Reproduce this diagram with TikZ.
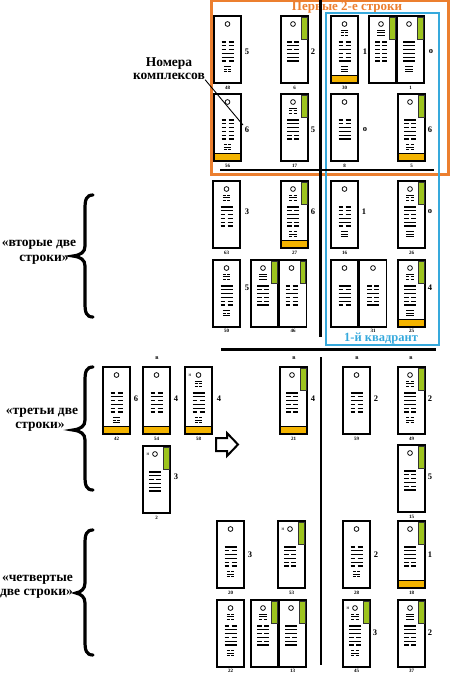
\documentclass[tikz,border=0pt]{standalone}
\usepackage{fontspec}
\setmainfont{Liberation Serif}
\definecolor{org}{HTML}{EC7F2F}
\definecolor{blu}{HTML}{36A9DC}
\definecolor{grn}{HTML}{9DC41E}
\definecolor{ylw}{HTML}{F4B400}
\newcommand\Main[3]{%
  \foreach \v [count=\i from 0] in {#3}{%
    \pgfmathsetmacro\yy{#2+\i*3.8}%
    \ifnum\v=1 \draw[hl] ({#1-6},\yy) -- ({#1+6},\yy);%
    \else \draw[hl] ({#1-6},\yy) -- ({#1-1.2},\yy) ({#1+1.2},\yy) -- ({#1+6},\yy);\fi}}
\newcommand\Tri[3]{%
  \foreach \v [count=\i from 0] in {#3}{%
    \pgfmathsetmacro\yy{#2+\i*2.5}%
    \ifnum\v=1 \draw[sl] ({#1-3.6},\yy) -- ({#1+3.6},\yy);%
    \else \draw[sl] ({#1-3.6},\yy) -- ({#1-0.7},\yy) ({#1+0.7},\yy) -- ({#1+3.6},\yy);\fi}}
\newcommand\Hex[6]{%
  \if\relax\detokenize{#4}\relax\else\Tri{#1+#3}{#2+14}{#4}\fi
  \Main{#1+#3}{#2+26}{#5}%
  \if\relax\detokenize{#6}\relax\else\Tri{#1+#3}{#2+50.5}{#6}\fi}
\newcommand\Plain[3]{\node[cardbox] (#1) at (#2,#3) {};
  \draw[circ] (#2+13.5,#3+8) circle[radius=2.4];}
\newcommand\Green[3]{\node[cardbox] (#1) at (#2,#3) {};
  \filldraw[gbar] (#2+20.5,#3+1.2) rectangle (#2+26.1,#3+23);
  \draw[circ] (#2+12,#3+8) circle[radius=2.4];}
\newcommand\Yel[2]{\fill[ybar] (#1+0.9,#2+59) rectangle (#1+26.1,#2+66.1);
  \draw[line width=0.5] (#1+0.9,#2+59) -- (#1+26.1,#2+59);}
\newcommand\Brace[4]{%
  \draw[brace] (93,#1) .. controls (86,#1) and (85,#1+5) .. (85,#1+14) -- (85,#2-10)
    .. controls (85,#2-4) and (81,#2-1) .. (#4,#2)
    .. controls (81,#2+1) and (85,#2+4) .. (85,#2+10) -- (85,#3-14)
    .. controls (85,#3-5) and (86,#3) .. (93,#3);}
\begin{document}
\begin{tikzpicture}[x=1pt,y=-1pt,
  cardbox/.style={draw, line width=1.9, fill=white, minimum width=27, minimum height=67, anchor=north west, inner sep=0, outer sep=0},
  gbar/.style={fill=grn, draw=black!80, line width=0.6},
  ybar/.style={fill=ylw},
  hl/.style={line width=1.3},
  sl/.style={line width=0.9},
  circ/.style={line width=0.75},
  num/.style={font=\fontsize{5}{6}\selectfont\bfseries, inner sep=0},
  vlbl/.style={font=\fontsize{6}{7}\selectfont\bfseries, inner sep=0},
  tiny/.style={font=\fontsize{5}{6}\selectfont, inner sep=0},
  dig/.style={font=\fontsize{8.5}{10}\selectfont\bfseries, inner sep=0},
  lbl/.style={font=\fontsize{13.5}{13}\selectfont\bfseries, align=center, inner sep=0},
  sepl/.style={line width=2.2},
  brace/.style={line width=3.2, line cap=round}]
\useasboundingbox (0,0) rectangle (450,673);
% frames
\draw[org, line width=2.4] (211.5,1.2) rectangle (448.5,174.5);
\node[lbl, text=org, font=\fontsize{13}{13}\selectfont\bfseries] (title) at (347,7.8) {Первые 2-е строки};
\draw[blu, line width=1.8] (326,13) rectangle (439,345);
\node[lbl, text=blu, font=\fontsize{12.5}{13}\selectfont\bfseries] (quad) at (381,339) {1-й квадрант};
% separators
\draw[sepl] (320.5,0) -- (320.5,337);
\draw[sepl] (220,170) -- (434,170);
\draw[sepl] (221,349.5) -- (436,349.5);
\draw[sepl] (321,357) -- (321,665);
% Row A
\Plain{c48}{214}{16} \Hex{214}{16}{13.5}{}{0,0,0,1,1,0}{1,0,0}
\Green{c6}{281}{16} \Hex{281}{16}{12}{}{0,1,0,1,1,1}{}
\Plain{c30}{331}{16} \Yel{331}{16} \Hex{331}{16}{13.5}{1,0,0}{0,0,1,0,0,1}{1,1,1}
\Green{c1a}{369}{16} \Hex{369}{16}{12}{1,1,1}{0,0,0,0,0,0}{}
\Green{c1b}{397}{16} \Hex{397}{16}{12}{}{1,1,1,1,1,1}{1,1,1}
% Row B
\Plain{c56}{214}{94} \Yel{214}{94} \Hex{214}{94}{13.5}{}{0,0,0,0,0,0}{0,1,0}
\Green{c17}{281}{94} \Hex{281}{94}{12}{1,0,0}{1,1,1,1,0,0}{}
\Plain{c8}{331}{94} \Hex{331}{94}{13.5}{}{0,0,1,1,1,1}{}
\Green{c5}{398}{94} \Yel{398}{94} \Hex{398}{94}{12}{}{1,0,0,1,1,0}{0,1,0}
% Row C
\Plain{c63}{213}{181} \Hex{213}{181}{13.5}{0,1,0}{1,1,0,0,0,0}{}
\Green{c27}{281}{181} \Yel{281}{181} \Hex{281}{181}{12}{0,1,0}{1,0,1,1,0,0}{0,1,0}
\Plain{c16}{331}{181} \Hex{331}{181}{13.5}{}{0,0,0,1,1,0}{1,1,1}
\Green{c26}{398}{181} \Hex{398}{181}{12}{1,0,0}{1,1,0,0,1,1}{1,1,1}
% Row D
\Plain{c50}{213}{260} \Hex{213}{260}{13.5}{0,1,0}{1,1,1,1,0,0}{1,0,1}
\Green{c46a}{251}{260} \Hex{251}{260}{12}{1,1,1}{1,0,1,0,0,1}{}
\Green{c46b}{279.5}{260} \Hex{279.5}{260}{12}{}{0,0,1,0,0,0}{}
\Plain{c31a}{331}{260} \Hex{331}{260}{13.5}{}{1,0,1,1,1,0}{}
\Plain{c31b}{359.5}{260} \Hex{359.5}{260}{13.5}{}{0,0,1,0,0,1}{}
\Green{c25}{398}{260} \Yel{398}{260} \Hex{398}{260}{12}{1,0,0}{1,1,1,0,0,1}{1,1,1}
% Row E
\Plain{c42}{103}{367} \Yel{103}{367} \Hex{103}{367}{13.5}{}{0,1,0,1,0,0}{1,0,1}
\Plain{c54}{143}{367} \Yel{143}{367} \Hex{143}{367}{13.5}{}{0,1,0,1,0,0}{}
\Plain{c58}{185}{367} \Yel{185}{367} \Hex{185}{367}{13.5}{1,0,0}{1,1,0,1,1,0}{0,1,0}
\Green{c21}{280}{367} \Yel{280}{367} \Hex{280}{367}{12}{}{1,0,1,0,1,0}{}
\Plain{c59}{343}{367} \Hex{343}{367}{13.5}{}{1,0,1,0,0,0}{}
\Green{c49}{398}{367} \Hex{398}{367}{12}{0,1,0}{1,1,1,1,0,0}{0,1,0}
% Row F
\Green{c2}{143}{446} \Hex{143}{446}{12}{}{1,1,0,1,1,1}{}
\Green{c15}{398}{445} \Hex{398}{445}{12}{}{1,0,0,1,0,1}{}
% Row G
\Plain{c20}{217}{521} \Hex{217}{521}{13.5}{}{1,0,1,1,0,0}{0,1,0}
\Green{c53}{278}{521} \Hex{278}{521}{12}{}{1,1,0,1,0,0}{}
\Plain{c28}{343}{521} \Hex{343}{521}{13.5}{}{0,1,1,0,1,0}{0,1,0}
\Green{c18}{398}{521} \Yel{398}{521} \Hex{398}{521}{12}{}{1,1,1,1,0,0}{}
% Row H
\Plain{c22}{217}{600} \Hex{217}{600}{13.5}{0,1,0}{0,1,1,0,1,1}{0,1,0}
\Green{c13a}{251}{600} \Hex{251}{600}{12}{1,1,0}{0,1,0,1,0,1}{}
\Green{c13b}{279}{600} \Hex{279}{600}{12}{}{1,1,1,0,1,1}{}
\Green{c45}{343}{600} \Hex{343}{600}{12}{0,1,0}{1,1,1,0,1,0}{0,1,0}
\Green{c37}{398}{600} \Hex{398}{600}{12}{1,1,1}{1,1,1,0,1,0}{}
% н marks
\node[tiny] (h58) at (190,375) {н};
\node[tiny] (h2) at (148,454) {н};
\node[tiny] (h53) at (283,529) {н};
\node[tiny] (h45) at (348,608) {н};
% в marks
\node[vlbl] (v54) at (157,358) {в};
\node[vlbl] (v21) at (294,358) {в};
\node[vlbl] (v59) at (357,358) {в};
\node[vlbl] (v49) at (411,358) {в};
% numbers
\node[num] (n48) at (227.5,87.5) {48};
\node[num] (n6) at (294.5,87.5) {6};
\node[num] (n30) at (344.5,87.5) {30};
\node[num] (n1) at (410.5,87.5) {1};
\node[num] (n56) at (227.5,165.5) {56};
\node[num] (n17) at (294.5,165.5) {17};
\node[num] (n8) at (344.5,165.5) {8};
\node[num] (n5) at (411.5,165.5) {5};
\node[num] (n63) at (226.5,252.5) {63};
\node[num] (n27) at (294.5,252.5) {27};
\node[num] (n16) at (344.5,252.5) {16};
\node[num] (n26) at (411.5,252.5) {26};
\node[num] (n50) at (226.5,331) {50};
\node[num] (n46) at (293,331) {46};
\node[num] (n31) at (373,330.5) {31};
\node[num] (n25) at (411.5,330.5) {25};
\node[num] (n42) at (116.5,438.5) {42};
\node[num] (n54) at (156.5,438.5) {54};
\node[num] (n58) at (198.5,438.5) {58};
\node[num] (n21) at (293.5,438.5) {21};
\node[num] (n59) at (356.5,438.5) {59};
\node[num] (n49) at (411.5,438.5) {49};
\node[num] (n2) at (156.5,517.5) {2};
\node[num] (n15) at (411.5,516.5) {15};
\node[num] (n20) at (230.5,592.5) {20};
\node[num] (n53) at (291.5,592.5) {53};
\node[num] (n28) at (356.5,592.5) {28};
\node[num] (n18) at (411.5,592.5) {18};
\node[num] (n22) at (230.5,671) {22};
\node[num] (n13) at (292.5,671) {13};
\node[num] (n45) at (356.5,671) {45};
\node[num] (n37) at (411.5,671) {37};
% digits
\node[dig] (d48) at (247,52) {5};
\node[dig] (d6) at (313,52) {2};
\node[dig] (d30) at (365,52) {1};
\node[dig] (d1) at (431,52) {o};
\node[dig] (d56) at (247,130) {6};
\node[dig] (d17) at (313,130) {5};
\node[dig] (d8) at (365,130) {o};
\node[dig] (d5) at (430,130) {6};
\node[dig] (d63) at (247,212) {3};
\node[dig] (d27) at (313,212) {6};
\node[dig] (d16) at (364,212) {1};
\node[dig] (d26) at (430,212) {o};
\node[dig] (d46) at (247,288) {5};
\node[dig] (d25) at (430,288) {4};
\node[dig] (d42) at (136,399) {6};
\node[dig] (d54) at (176,399) {4};
\node[dig] (d58) at (219,399) {4};
\node[dig] (d21) at (313,399) {4};
\node[dig] (d59) at (376,399) {2};
\node[dig] (d49) at (430,399) {2};
\node[dig] (d2) at (176,477) {3};
\node[dig] (d15) at (430,477) {5};
\node[dig] (d20) at (250,555) {3};
\node[dig] (d28) at (376,555) {2};
\node[dig] (d18) at (430,555) {1};
\node[dig] (d45) at (375,633) {3};
\node[dig] (d37) at (430,633) {2};
% arrow
\draw[line width=2, fill=white, line join=miter] (216,438) -- (227,438) -- (227,433) -- (238,444.5) -- (227,456) -- (227,451) -- (216,451) -- cycle;
% label with leader
\node[lbl] (nk) at (169,68.5) {Номера\\комплексов};
\coordinate (ptr) at (243,125);
\draw[line width=0.9] (nk.south east) -- (ptr);
% braces and their texts
\Brace{195}{256}{317}{73}
\Brace{367}{430}{490}{73}
\Brace{530}{593}{655}{76}
\node[lbl] (t2a) at (39,245) {«вторые две};
\node[lbl] (t2b) at (44,259.5) {строки»};
\node[lbl] (t3a) at (42,413) {«третьи две};
\node[lbl] (t3b) at (40,427) {строки»};
\node[lbl] (t4a) at (37.5,580) {«четвертые};
\node[lbl] (t4b) at (36.5,593.5) {две строки»};
\end{tikzpicture}
\end{document}
